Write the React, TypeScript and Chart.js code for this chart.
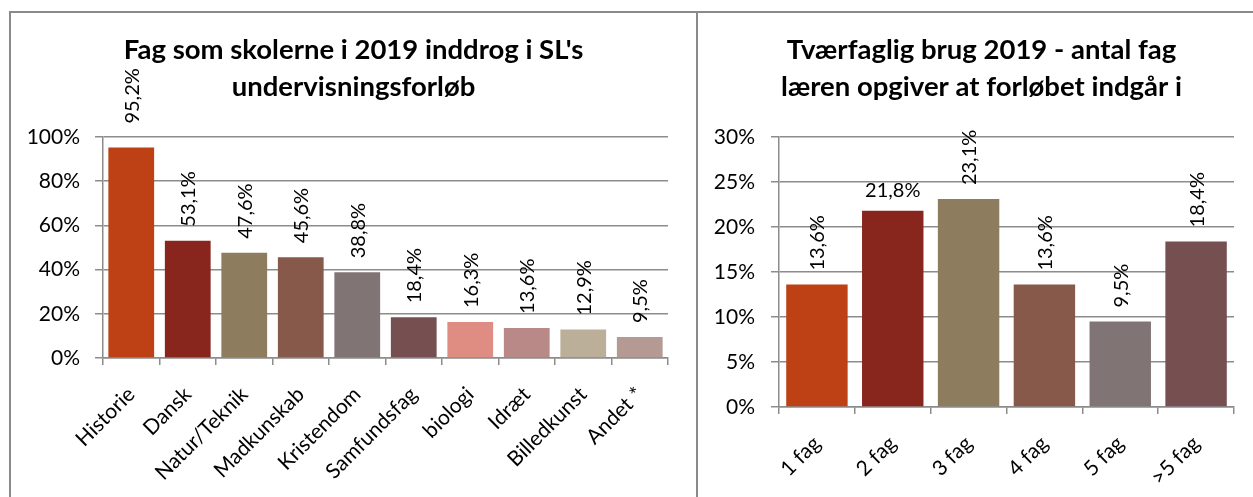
import React, { useEffect, useRef } from "react";
import { Chart, registerables } from "chart.js";
Chart.register(...registerables);

// ---- Left chart data ----
const leftTitle = ["Fag som skolerne i 2019 inddrog i SL's", "undervisningsforløb"];
const leftCategories = ["Historie", "Dansk", "Natur/Teknik", "Madkunskab", "Kristendom", "Samfundsfag", "biologi", "Idræt", "Billedkunst", "Andet *"];
const leftValues = [95.2, 53.1, 47.6, 45.6, 38.8, 18.4, 16.3, 13.6, 12.9, 9.5];
const leftColors = ["#BD4115", "#88261E", "#8E7C5E", "#87594A", "#807474", "#765050", "#DF8C82", "#B98987", "#BCAF9A", "#B49A93"];
const leftMax = 100;
const leftStep = 20;

// ---- Right chart data ----
const rightTitle = ["Tværfaglig brug 2019 - antal fag", "læren opgiver at forløbet indgår i"];
const rightCategories = ["1 fag", "2 fag", "3 fag", "4 fag", "5 fag", ">5 fag"];
const rightValues = [13.6, 21.8, 23.1, 13.6, 9.5, 18.4];
const rightColors = ["#BD4115", "#88261E", "#8E7C5E", "#87594A", "#807474", "#765050"];
const rightMax = 30;
const rightStep = 5;

// label styling (which labels are horizontal / lifted further)
const rightHorizontalLabels = [1];
const leftLabelLift: Record<number, number> = { 0: 24 };

const FONT = "Lato, 'Open Sans', sans-serif";
const GRID = "#8C8C8C";

const fmt = (v: number) => v.toFixed(1).replace(".", ",") + "%";

function labelPlugin(horizontal: number[], lift: Record<number, number>) {
  return {
    id: "barLabels",
    afterDatasetsDraw(chart: any) {
      const ctx = chart.ctx;
      const meta = chart.getDatasetMeta(0);
      const data = chart.data.datasets[0].data as number[];
      ctx.save();
      ctx.font = `20px ${FONT}`;
      ctx.fillStyle = "#000";
      meta.data.forEach((bar: any, i: number) => {
        const txt = fmt(data[i]);
        if (horizontal.includes(i)) {
          ctx.textAlign = "center";
          ctx.textBaseline = "alphabetic";
          ctx.fillText(txt, bar.x, bar.y - 14);
        } else {
          const gap = lift[i] ?? 14;
          ctx.save();
          ctx.translate(bar.x + 1, bar.y - gap);
          ctx.rotate(-Math.PI / 2);
          ctx.textAlign = "left";
          ctx.textBaseline = "middle";
          ctx.fillText(txt, 0, 0);
          ctx.restore();
        }
      });
      ctx.restore();
    },
  };
}

function titlePlugin(lines: string[], centerX: number) {
  return {
    id: "boxTitle",
    afterDraw(chart: any) {
      const ctx = chart.ctx;
      ctx.save();
      ctx.font = `bold 27.5px ${FONT}`;
      ctx.fillStyle = "#000";
      ctx.textAlign = "center";
      ctx.textBaseline = "middle";
      lines.forEach((line, i) => ctx.fillText(line, centerX, 36 + i * 37));
      ctx.restore();
    },
  };
}

function makeConfig(o: {
  categories: string[];
  values: number[];
  colors: string[];
  title: string[];
  titleX: number;
  max: number;
  step: number;
  yWidth: number;
  xHeight: number;
  yPad: number;
  rightPad: number;
  horizontal: number[];
  lift: Record<number, number>;
}): any {
  return {
    type: "bar",
    data: {
      labels: o.categories,
      datasets: [
        {
          data: o.values,
          backgroundColor: o.colors,
          borderWidth: 0,
          barPercentage: 0.81,
          categoryPercentage: 1,
        },
      ],
    },
    options: {
      responsive: false,
      animation: false,
      devicePixelRatio: 1,
      layout: { padding: { left: 0, right: o.rightPad, top: 123, bottom: 0 } },
      plugins: {
        legend: { display: false },
        tooltip: { enabled: false },
        title: { display: false },
      },
      scales: {
        y: {
          min: 0,
          max: o.max,
          ticks: {
            stepSize: o.step,
            color: "#000",
            font: { family: FONT, size: 21 },
            padding: o.yPad,
            callback: (v: number) => v + "%",
          },
          grid: { color: GRID, lineWidth: 1.5, tickLength: 8, drawTicks: true },
          border: { display: true, color: GRID, width: 1.5 },
          afterFit: (s: any) => {
            s.width = o.yWidth;
          },
        },
        x: {
          ticks: {
            color: "#000",
            font: { family: FONT, size: 21 },
            minRotation: 45,
            maxRotation: 45,
            autoSkip: false,
            padding: 17,
          },
          grid: { color: GRID, lineWidth: 1.5, tickLength: 7, drawOnChartArea: false, offset: true },
          border: { display: true, color: GRID, width: 1.5 },
          afterFit: (s: any) => {
            s.height = o.xHeight;
          },
        },
      },
    },
    plugins: [labelPlugin(o.horizontal, o.lift), titlePlugin(o.title, o.titleX)],
  };
}

export default function App() {
  const leftRef = useRef<HTMLCanvasElement>(null);
  const rightRef = useRef<HTMLCanvasElement>(null);

  useEffect(() => {
    document.body.style.overflow = "hidden";
    const left = new Chart(
      leftRef.current as HTMLCanvasElement,
      makeConfig({
        categories: leftCategories,
        values: leftValues,
        colors: leftColors,
        title: leftTitle,
        titleX: 341.5,
        max: leftMax,
        step: leftStep,
        yWidth: 91,
        xHeight: 139,
        yPad: 15,
        rightPad: 28,
        horizontal: [],
        lift: leftLabelLift,
      })
    );
    const right = new Chart(
      rightRef.current as HTMLCanvasElement,
      makeConfig({
        categories: rightCategories,
        values: rightValues,
        colors: rightColors,
        title: rightTitle,
        titleX: 282.5,
        max: rightMax,
        step: rightStep,
        yWidth: 80,
        xHeight: 90,
        yPad: 16,
        rightPad: 19,
        horizontal: rightHorizontalLabels,
        lift: {},
      })
    );
    return () => {
      left.destroy();
      right.destroy();
    };
  }, []);

  const boxBase: React.CSSProperties = {
    position: "absolute",
    boxSizing: "border-box",
    border: "2px solid #8A8A8A",
    borderBottom: "none",
    top: 11,
    height: 486,
  };

  return (
    <div>
      <div style={{ ...boxBase, left: 9, width: 689 }} />
      <div style={{ ...boxBase, left: 696, width: 557, borderRight: "none" }} />
      <canvas ref={leftRef} width={684} height={483} style={{ position: "absolute", left: 12, top: 14 }} />
      <canvas ref={rightRef} width={554} height={483} style={{ position: "absolute", left: 699, top: 14 }} />
    </div>
  );
}
